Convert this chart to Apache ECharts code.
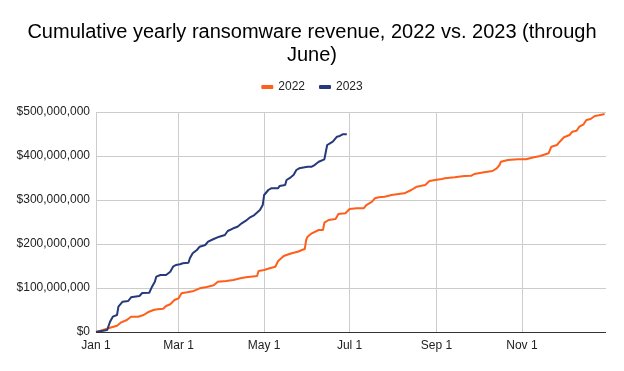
<!DOCTYPE html>
<html>
<head>
<meta charset="utf-8">
<script src="https://cdn.jsdelivr.net/npm/echarts@6/dist/echarts.min.js"></script>
<style>html,body{margin:0;padding:0;background:#fff}#c{width:624px;height:371px}</style>
</head>
<body>
<div id="c"></div>
<script>
// Day of year (0 = Jan 1) and cumulative revenue in USD millions
const days2022 = [0,5,10,15,18,22,25,30,34,37,41,44,48,50,53,56,59,61,65,69,74,79,84,87,93,98,103,107,115,116,120,124,128,130,134,138,141,144,147,149,150,151,154,159,162,163,166,171,173,178,181,186,191,193,197,199,202,206,211,216,220,225,229,235,238,242,247,249,256,263,268,270,277,283,286,288,289,294,301,307,311,317,323,325,329,331,334,338,340,343,345,348,350,353,356,359,363];
const revenue2022 = [0,4.5,9.8,14.3,22,27.3,34.8,34.8,38.6,44.8,50,51.6,53,59.1,63,72.7,76.6,88,90.2,92.5,99.3,102.3,106.1,114.3,115.9,118.2,122,124.3,127.3,138.6,140.9,144.8,148.4,161.4,172.7,177.3,180.2,182.5,186.4,188.6,209.1,216.6,224.3,231.8,231.8,248.4,254.5,256.8,268.2,269.8,279.5,281.1,281.1,288.6,296.1,303.9,306.1,307.5,311.4,313.6,315.2,322.7,330.2,334.1,343.2,345.5,347.7,349.3,351.6,354.5,355.2,359.1,363,365.9,372,379.5,387,390.9,392.5,392.5,396.1,400,406.1,421.1,425,432.5,442.5,447.7,455.2,457.5,466.6,472,481.8,484.1,490.9,492.5,495.5];
const days2023 = [0,8,10,12,15,16,19,23,25,31,33,38,40,42,43,46,50,53,55,57,60,62,66,67,69,72,74,78,80,84,88,92,94,98,101,104,107,110,113,117,119,120,123,125,130,131,135,136,139,141,143,145,151,154,156,159,163,165,167,169,172,174,176,179];
const revenue2023 = [0,4.5,23.4,34.8,38.6,57.5,68.9,70.5,78.9,81.8,88.6,89.3,103,114.3,125.7,129.5,129.5,137,148.4,152.3,153.9,156.1,157.5,167.5,178.9,186.4,193.9,197.7,205.2,211.4,216.6,220.5,229.5,235.7,239.3,247,253,260.7,265.9,277.3,288.6,311.4,322.7,326.6,326.6,331.8,334.1,345.5,351.6,356.8,368.2,372,375.7,375.7,379.5,387,392.5,425,428.9,432.5,443.9,445.5,449.3,449.3];
const tickDays = [0,59,120,181,243,304];
const tickLabels = ['Jan 1','Mar 1','May 1','Jul 1','Sep 1','Nov 1'];
const yTicks = [0,100,200,300,400,500];

const toData = (d, v) => d.map((x, i) => [x, v[i] * 1e6]);
const chart = echarts.init(document.getElementById('c'), null, {renderer: 'canvas'});
chart.setOption({
  animation: false,
  title: {
    text: 'Cumulative yearly ransomware revenue, 2022 vs. 2023 (through\nJune)',
    left: 'center', top: 16,
    textStyle: {fontFamily: 'Liberation Sans, Arial', fontSize: 20, fontWeight: 'normal', color: '#000', lineHeight: 23}
  },
  legend: {
    top: 76, left: 'center', itemWidth: 12, itemHeight: 4, itemGap: 14,
    icon: 'roundRect',
    textStyle: {fontFamily: 'Liberation Sans, Arial', fontSize: 12, color: '#222'},
    data: ['2022', '2023']
  },
  grid: {left: 96, right: 18, top: 112, bottom: 39, containLabel: false},
  xAxis: {
    type: 'value', min: 0, max: 364,
    axisLine: {show: false},
    axisTick: {show: false, customValues: tickDays},
    axisLabel: {
      customValues: tickDays,
      formatter: v => tickLabels[tickDays.indexOf(v)] || '',
      fontFamily: 'Liberation Sans, Arial', fontSize: 12, color: '#222', margin: 8
    },
    splitLine: {show: true, lineStyle: {color: '#cccccc', width: 1}}
  },
  yAxis: {
    type: 'value', min: 0, max: yTicks[yTicks.length - 1] * 1e6, interval: 100e6,
    axisLine: {show: false}, axisTick: {show: false},
    axisLabel: {
      formatter: v => '$' + Math.round(v).toLocaleString('en-US'),
      fontFamily: 'Liberation Sans, Arial', fontSize: 12, color: '#222', margin: 6
    },
    splitLine: {lineStyle: {color: '#cccccc', width: 1}}
  },
  series: [
    {
      name: '2022', type: 'line', data: toData(days2022, revenue2022),
      showSymbol: false, symbol: 'none', z: 3,
      lineStyle: {color: '#ff5f1a', width: 2}, itemStyle: {color: '#ff5f1a'}
    },
    {
      name: '2023', type: 'line', data: toData(days2023, revenue2023),
      showSymbol: false, symbol: 'none', z: 4,
      lineStyle: {color: '#26397a', width: 2}, itemStyle: {color: '#26397a'},
      markLine: {
        silent: true, symbol: 'none', label: {show: false},
        lineStyle: {color: '#333', width: 1, type: 'solid'},
        data: [{yAxis: 0}]
      }
    }
  ]
});
</script>
</body>
</html>
